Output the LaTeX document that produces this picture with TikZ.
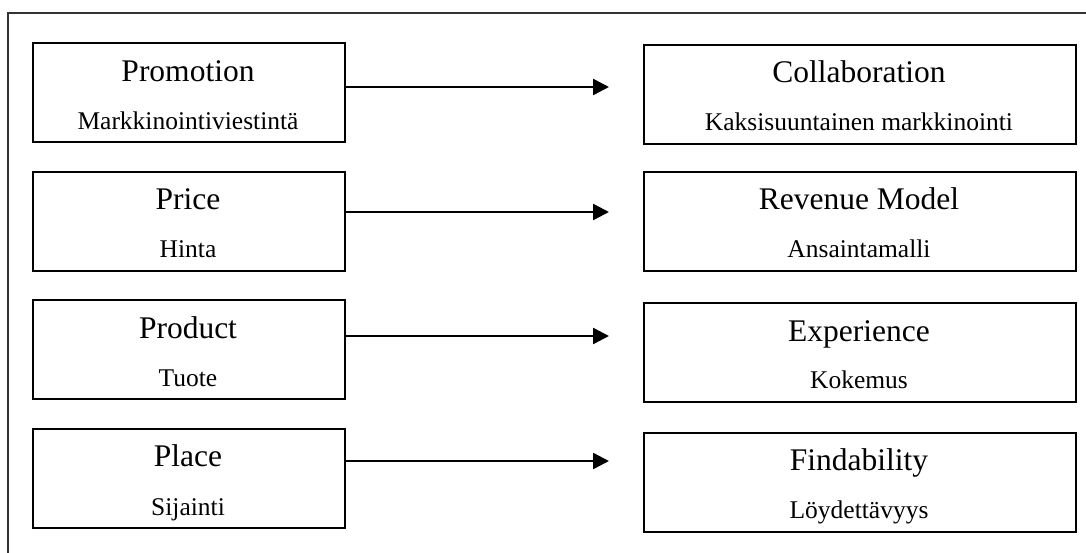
\documentclass[tikz,border=0pt]{standalone}
\usepackage{fontspec}
\setmainfont{Liberation Serif}
\usetikzlibrary{arrows.meta}
\begin{document}
\begin{tikzpicture}[x=1pt,y=-1pt,
  box/.style={draw=black, line width=1.8pt, anchor=north west, inner sep=0pt, minimum height=99pt},
  lbox/.style={box, minimum width=312pt},
  rbox/.style={box, minimum width=432pt},
  ttl/.style={anchor=base, inner sep=0pt, font=\fontsize{31.5}{36}\selectfont},
  sub/.style={anchor=base, inner sep=0pt, font=\fontsize{25.5}{30}\selectfont},
  arr/.style={line width=2.4pt, -{Triangle[length=16pt,width=16pt]}},
  frame/.style={draw=black!80, line width=1.5pt}]
\useasboundingbox (0,0) rectangle (1086,553);
\draw[frame] (8,560) -- (8,13) -- (1090,13);
% left boxes
\node[lbox] (L1) at (32,42) {};
\node[lbox] (L2) at (32,171) {};
\node[lbox] (L3) at (32,299) {};
\node[lbox] (L4) at (32,428) {};
% right boxes
\node[rbox] (R1) at (643,44) {};
\node[rbox] (R2) at (643,171) {};
\node[rbox] (R3) at (643,302) {};
\node[rbox] (R4) at (643,432) {};
% texts left
\node[ttl] (L1t) at (188,82) {Promotion};
\node[sub] (L1s) at (188,130) {Markkinointiviestintä};
\node[ttl] (L2t) at (188,210) {Price};
\node[sub] (L2s) at (188,258) {Hinta};
\node[ttl] (L3t) at (188,338) {Product};
\node[sub] (L3s) at (188,386) {Tuote};
\node[ttl] (L4t) at (188,466) {Place};
\node[sub] (L4s) at (188,515) {Sijainti};
% texts right
\node[ttl] (R1t) at (859,83) {Collaboration};
\node[sub] (R1s) at (859,131) {Kaksisuuntainen markkinointi};
\node[ttl] (R2t) at (859,210) {Revenue Model};
\node[sub] (R2s) at (859,258) {Ansaintamalli};
\node[ttl] (R3t) at (859,341) {Experience};
\node[sub] (R3s) at (859,388) {Kokemus};
\node[ttl] (R4t) at (859,470) {Findability};
\node[sub] (R4s) at (859,518) {Löydettävyys};
% arrow ends
\coordinate (e1) at (609,87);
\coordinate (e2) at (609,212);
\coordinate (e3) at (609,336);
\coordinate (e4) at (609,461);
\draw[arr] (L1.east |- e1) -- (e1);
\draw[arr] (L2.east |- e2) -- (e2);
\draw[arr] (L3.east |- e3) -- (e3);
\draw[arr] (L4.east |- e4) -- (e4);
\end{tikzpicture}
\end{document}
